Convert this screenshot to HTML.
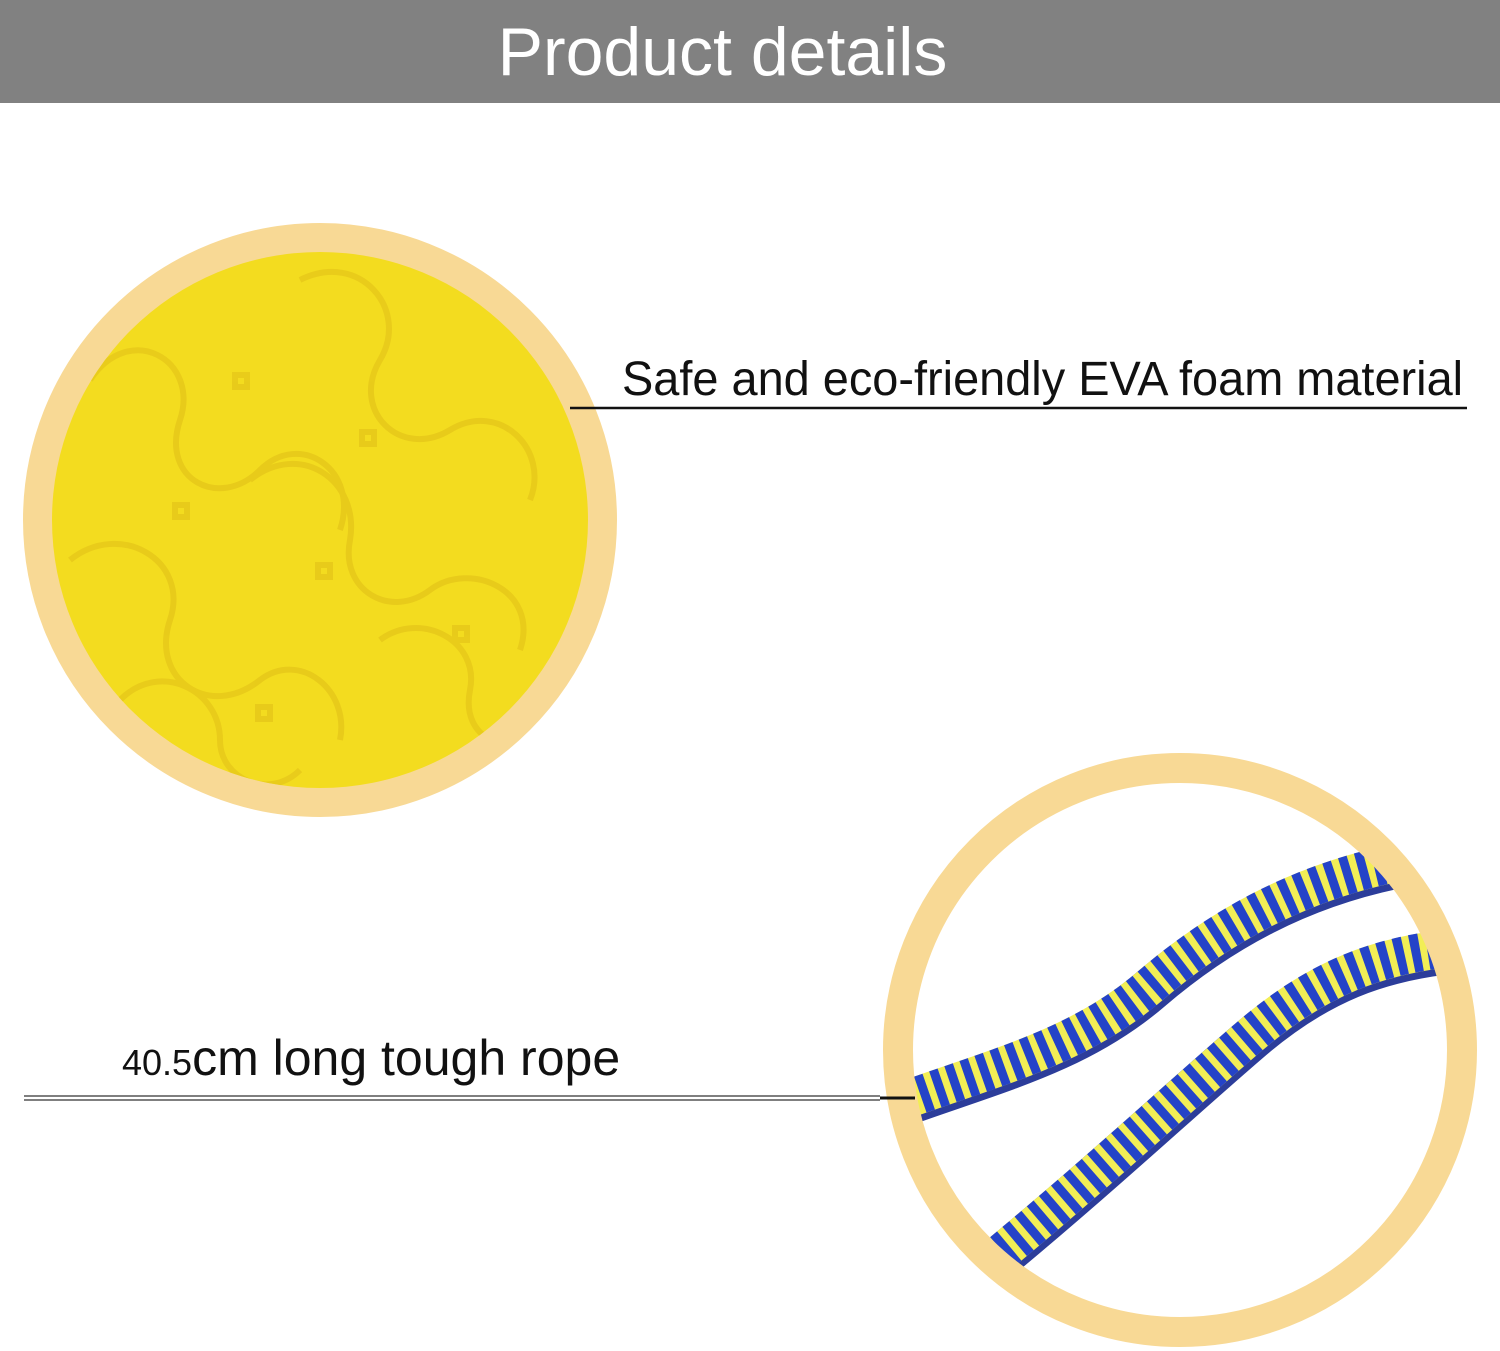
<!DOCTYPE html>
<html><head><meta charset="utf-8"><style>
html,body{margin:0;padding:0;background:#fff;}
body{width:1500px;height:1351px;position:relative;overflow:hidden;font-family:"Liberation Sans","DejaVu Sans",sans-serif;}
.hdr{position:absolute;left:0;top:0;width:1500px;height:103px;background:#818181;}
.hdr span{position:absolute;left:0;width:1445px;text-align:center;top:14px;color:#fff;font-size:68px;line-height:76px;}
.t{position:absolute;color:#111;white-space:nowrap;transform-origin:0 0;}
</style></head><body>
<div class="hdr"><span>Product details</span></div>
<svg width="1500" height="1351" style="position:absolute;left:0;top:0">
  <defs>
    <clipPath id="c1"><circle cx="320" cy="520" r="268"/></clipPath>
    <clipPath id="c2"><circle cx="1180" cy="1050" r="268"/></clipPath>
  </defs>
  <circle cx="320" cy="520" r="282" fill="none" stroke="#F8D995" stroke-width="30"/>
  <circle cx="320" cy="520" r="268" fill="#F3DC1F"/>
  <g clip-path="url(#c1)" fill="none" stroke="#E6C81A" stroke-width="6" opacity="0.8">
    <path d="M90,380 c40,-60 110,-20 90,40 c-20,60 40,90 80,50 c40,-40 100,0 80,60"/>
    <path d="M300,280 c60,-30 110,30 80,80 c-30,50 20,100 70,70 c50,-30 100,20 80,70"/>
    <path d="M70,560 c50,-40 120,0 100,60 c-20,60 40,100 90,60 c40,-30 90,10 80,60"/>
    <path d="M250,480 c50,-40 110,0 100,60 c-10,50 40,80 80,50 c40,-30 110,0 90,60"/>
    <path d="M120,700 c40,-40 100,-10 100,40 c0,40 50,60 80,30"/>
    <path d="M380,640 c40,-30 100,0 90,50 c-10,50 40,70 80,40"/>
    <rect x="235" y="375" width="12" height="12"/><rect x="362" y="432" width="12" height="12"/>
    <rect x="175" y="505" width="12" height="12"/><rect x="318" y="565" width="12" height="12"/>
    <rect x="455" y="628" width="12" height="12"/><rect x="258" y="707" width="12" height="12"/>
  </g>
  <g clip-path="url(#c2)" fill="none">
    <path d="M905,1104 C1000,1070 1080,1050 1150,990 S1300,886 1400,866" stroke="#2C3D9A" stroke-width="44"/>
    <path d="M905,1100 C1000,1066 1080,1046 1150,986 S1300,882 1400,862" stroke="#F2EE55" stroke-width="38"/>
    <path d="M905,1100 C1000,1066 1080,1046 1150,986 S1300,882 1400,862" stroke="#2443C8" stroke-width="38" stroke-dasharray="9 7"/>
    <path d="M990,1266 C1100,1175 1180,1100 1250,1040 S1380,960 1450,952" stroke="#2C3D9A" stroke-width="44"/>
    <path d="M990,1262 C1100,1171 1180,1096 1250,1036 S1380,956 1450,948" stroke="#F2EE55" stroke-width="38"/>
    <path d="M990,1262 C1100,1171 1180,1096 1250,1036 S1380,956 1450,948" stroke="#2443C8" stroke-width="38" stroke-dasharray="9 7"/>
  </g>
  <circle cx="1180" cy="1050" r="282" fill="none" stroke="#F8D995" stroke-width="30"/>
  <line x1="570" y1="408" x2="1467" y2="408" stroke="#111" stroke-width="2.5"/>
  <line x1="24" y1="1096" x2="880" y2="1096" stroke="#333" stroke-width="1.2"/>
  <line x1="24" y1="1100" x2="880" y2="1100" stroke="#333" stroke-width="1.2"/>
  <line x1="880" y1="1098" x2="915" y2="1098" stroke="#111" stroke-width="3"/>
</svg>
<div class="t" style="left:622px;top:350px;font-size:48px;line-height:60px;transform:scaleX(0.977);">Safe and eco-friendly EVA foam material</div>
<div class="t" style="left:122px;top:1028px;font-size:50px;line-height:60px;"><span style="font-size:36px">40.5</span>cm long tough rope</div>
</body></html>
